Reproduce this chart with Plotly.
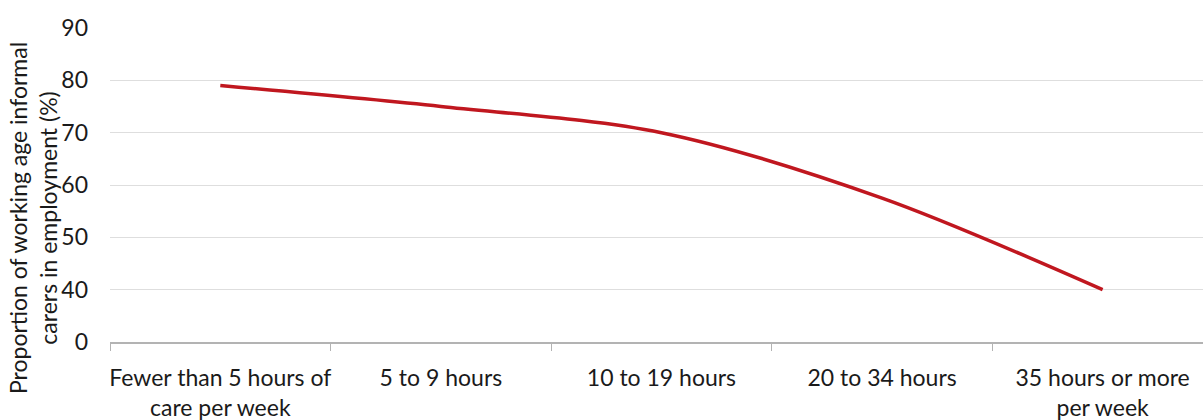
import plotly.graph_objects as go

# Weekly hours of unpaid care and share of working-age carers in employment
categories = [
    "Fewer than 5 hours of<br>care per week",
    "5 to 9 hours",
    "10 to 19 hours",
    "20 to 34 hours",
    "35 hours or more<br>per week",
]
employment_pct = [79, 75, 70, 57.5, 40]

# Broken value axis: the lowest tick carries the "0" label
y_tick_vals = [30, 40, 50, 60, 70, 80, 90]
y_tick_text = ["0", "40", "50", "60", "70", "80", "90"]

FONT = "Lato"
TEXT = "#1a1a1a"

fig = go.Figure()
fig.add_trace(
    go.Scatter(
        x=categories,
        y=employment_pct,
        mode="lines",
        line=dict(color="#c0171f", width=3.5, shape="spline", smoothing=0.9),
        hoverinfo="x+y",
        showlegend=False,
    )
)

fig.update_layout(
    width=1203,
    height=420,
    margin=dict(l=110, r=0, t=28, b=78, autoexpand=False),
    paper_bgcolor="white",
    plot_bgcolor="white",
    font=dict(family=FONT, color=TEXT),
    xaxis=dict(
        type="category",
        range=[-0.5, 4.455],
        automargin=False,
        tickangle=0,
        showgrid=False,
        showline=True,
        linecolor="#b3b3b3",
        linewidth=1.5,
        ticks="outside",
        tickson="boundaries",
        ticklen=7,
        tickcolor="#b3b3b3",
        tickwidth=1,
        tickfont=dict(size=23, family=FONT, color=TEXT),
        ticklabelstandoff=15,
    ),
    yaxis=dict(
        range=[30, 90],
        automargin=False,
        tickvals=y_tick_vals,
        ticktext=y_tick_text,
        showgrid=True,
        gridcolor="#dedede",
        gridwidth=1,
        zeroline=False,
        showline=False,
        ticks="",
        tickfont=dict(size=23, family=FONT, color=TEXT),
        ticklabelstandoff=21,
    ),
    annotations=[
        dict(
            text="Proportion of working age informal<br>carers in employment (%)",
            textangle=-90,
            xref="paper",
            yref="paper",
            x=(33 - 110) / 1093,
            y=(342 - 218) / 314,
            xanchor="center",
            yanchor="middle",
            showarrow=False,
            font=dict(size=23, family=FONT, color=TEXT),
        )
    ],
)

fig.write_html("out.html")
